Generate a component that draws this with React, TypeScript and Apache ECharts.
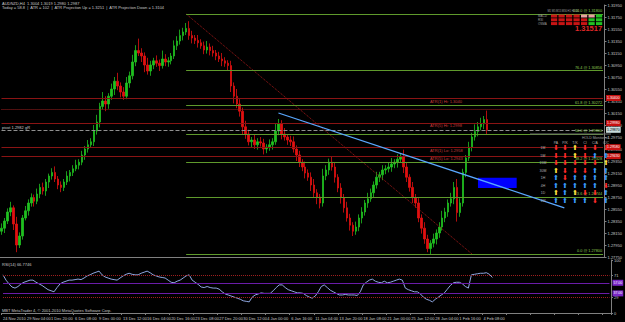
import React, { useEffect, useRef } from "react";
import * as echarts from "echarts";

// ---- data (prices as pips above BASE) ----
const BASE = 1.27;
const PIP = 0.0001;
const firstOpen = 118;
const closes = [
  123, 135, 150, 157, 130, 95, 110, 140, 152, 165,
  174, 168, 180, 191, 185, 200, 210, 216, 205, 195,
  191, 200, 210, 216, 222, 228, 233, 245, 255, 262,
  267, 285, 300, 326, 335, 330, 343, 355, 368, 360,
  350, 343, 365, 377, 400, 419, 415, 410, 395, 385,
  395, 402, 398, 394, 405, 400, 402, 410, 427, 435,
  444, 450, 456, 444, 440, 436, 432, 427, 420, 425,
  419, 415, 410, 405, 402, 398, 394, 360, 343, 330,
  318, 292, 280, 267, 270, 262, 267, 265, 255, 258,
  262, 267, 285, 297, 280, 275, 270, 267, 255, 245,
  233, 225, 215, 208, 195, 182, 175, 165, 210, 220,
  233, 225, 208, 190, 174, 157, 140, 128, 118, 125,
  140, 150, 165, 172, 182, 195, 208, 212, 220, 222,
  225, 230, 233, 238, 242, 225, 208, 191, 174, 165,
  140, 123, 105, 89, 98, 105, 115, 125, 140, 150,
  165, 172, 191, 149, 165, 216, 240, 258, 275, 284,
  292, 297, 304, 287,
];
const wickUp = [
  8, 5, 6, 10, 4, 12, 6, 5, 8, 6,
  7, 5, 9, 6, 8, 5, 4, 7, 10, 5,
  6, 5, 8, 4, 6, 9, 5, 7, 5, 8,
  6, 10, 12, 6, 15, 8, 5, 9, 7, 14,
  6, 8, 10, 7, 12, 9, 20, 8, 6, 12,
  7, 5, 9, 6, 14, 8, 6, 5, 9, 8,
  10, 7, 9, 12, 8, 5, 9, 6, 7, 10,
  6, 8, 5, 7, 10, 6, 5, 8, 6, 12,
  8, 6, 10, 7, 5, 9, 6, 8, 7, 5,
  9, 6, 12, 8, 6, 10, 5, 7, 9, 6,
  7, 5, 9, 6, 8, 10, 6, 5, 12, 8,
  6, 9, 7, 5, 8, 6, 10, 7, 5, 9,
  6, 8, 5, 10, 7, 6, 9, 5, 8, 6,
  7, 10, 5, 8, 6, 12, 7, 5, 9, 6,
  8, 6, 10, 7, 5, 9, 6, 8, 12, 7,
  6, 10, 9, 14, 8, 6, 5, 9, 7, 12,
  8, 10, 6, 15,
];
const wickDown = [
  6, 8, 5, 7, 10, 12, 5, 6, 4, 8,
  6, 9, 5, 7, 6, 8, 10, 6, 5, 7,
  8, 6, 5, 9, 6, 4, 7, 5, 8, 6,
  5, 7, 6, 9, 5, 12, 8, 6, 10, 7,
  9, 6, 5, 8, 6, 7, 5, 10, 12, 6,
  8, 7, 6, 9, 5, 7, 8, 6, 5, 7,
  6, 8, 5, 7, 9, 6, 8, 5, 7, 6,
  8, 6, 7, 5, 9, 6, 8, 10, 12, 7,
  9, 12, 8, 6, 10, 7, 8, 6, 9, 7,
  6, 8, 5, 7, 9, 6, 8, 7, 6, 10,
  8, 7, 9, 6, 10, 8, 12, 9, 6, 7,
  8, 6, 9, 7, 10, 8, 6, 9, 8, 6,
  7, 9, 6, 8, 5, 7, 6, 8, 9, 7,
  6, 8, 7, 9, 6, 10, 8, 7, 9, 8,
  7, 9, 8, 6, 10, 7, 9, 8, 6, 7,
  8, 6, 9, 15, 7, 6, 8, 5, 7, 6,
  8, 6, 9, 7,
];
const rsiValues = [
  72, 62, 55, 49, 47, 50, 55, 58, 60, 62,
  62, 58, 55, 52, 48, 44, 42, 40, 48, 55,
  58, 60, 62, 62, 63, 64, 63, 66, 70, 72,
  75, 77, 79, 72, 68, 66, 64, 63, 62, 66,
  70, 73, 75, 73, 72, 72, 75, 77, 79, 76,
  72, 70, 68, 67, 66, 62, 58, 57, 60, 62,
  66, 70, 72, 62, 58, 54, 49, 48, 50, 48,
  47, 47, 45, 40, 36, 34, 32, 30, 28, 26,
  23, 22, 21, 30, 34, 36, 38, 37, 37, 37,
  42, 48, 53, 53, 48, 44, 42, 40, 38, 38,
  37, 33, 30, 28, 32, 40, 50, 53, 48, 43,
  40, 37, 34, 34, 35, 34, 34, 34, 33, 40,
  53, 58, 62, 64, 60, 58, 57, 60, 57, 58,
  60, 62, 64, 62, 47, 44, 42, 40, 40, 36,
  30, 26, 24, 21, 26, 30, 34, 38, 45, 52,
  57, 58, 58, 55, 50, 47, 72, 73, 74, 75,
  75, 76, 73, 67,
];
const xLabels = [
  "24 Nov 2010", "29 Nov 04:00", "1 Dec 20:00", "6 Dec 08:00", "9 Dec 00:00",
  "13 Dec 12:00", "16 Dec 04:00", "20 Dec 16:00", "23 Dec 08:00", "27 Dec 20:00",
  "30 Dec 12:00", "4 Jan 00:00", "6 Jan 16:00", "11 Jan 04:00", "13 Jan 20:00",
  "18 Jan 08:00", "21 Jan 00:00", "25 Jan 12:00", "28 Jan 04:00", "1 Feb 16:00",
  "4 Feb 08:00",
];
const priceTicks = [
  1.3195, 1.3175, 1.3155, 1.3135, 1.3115, 1.3095, 1.3075, 1.3055, 1.3035, 1.3015, 1.2995,
  1.2975, 1.2955, 1.2935, 1.2915, 1.2895, 1.2875, 1.2855, 1.2835, 1.2815, 1.2795, 1.2775,
];
const rsiTicks = [0, 29, 71, 100];
const fibPcts = ["100.0", "76.4", "61.8", "50.0", "38.2", "23.6", "0.0"];
const fibPrices = [1.318, 1.30856, 1.30272, 1.298, 1.29328, 1.28744, 1.278];
const atrNames = ["ATR(1) Hi", "ATR(5) Hi", "ATR(1) Lo", "ATR(5) Lo"];
const atrPrices = [1.304, 1.2998, 1.2958, 1.2943];
const atrDotted = 1.3022;
const bidPrice = 1.2987;
const trendBlue = [[93, 1.3015], [189, 1.2857]];
const trendRed = [[62, 1.318], [158, 1.278]];
const zoneBox = [[160, 1.2907], [173, 1.289]];
const rsiBands = [57, 37];
const rsiLevels = [71, 29];
const monitorCols = ["PA", "P/K", "T/K", "CI", "C/A", "C/C"];
const monitorRows = ["1M", "5M", "15M", "30M", "1H", "4H", "1D", "1W"];
const monitorSignals = [
  "RRYRRR",
  "RRYRBB",
  "RRRRRY",
  "YRRRBB",
  "BRBBBB",
  "BBBBBR",
  "YBYRRB",
  "BBBBRB",
];
const trendRows = ["MACD", "RSI", "OSMA"];
const trendHeader = "M1 M5 M15 M30 H1 H4 D1";
const trendSignals = ["RRRRPPG", "RRRRRGG", "RRRRRGG"];

const N_CATS = 203;
const FONT = "Liberation Sans";

export default function App() {
  const ref = useRef<HTMLDivElement>(null);
  useEffect(() => {
    const chart = echarts.init(ref.current!, null, { renderer: "svg" });
    const px = (v: number) => +(BASE + v * PIP).toFixed(4);
    const ohlc = closes.map((c, i) => {
      const o = i === 0 ? firstOpen : closes[i - 1];
      const h = Math.max(o, c) + wickUp[i];
      const l = Math.min(o, c) - wickDown[i];
      return [px(o), px(c), px(l), px(h)];
    });
    const cats = Array.from({ length: N_CATS }, (_, i) => String(i));
    const grey = "#808080";
    const txt = "#c8c8c8";
    const last = N_CATS - 1;

    const axisBox = (text: string, bg: string, fg: string) => ({
      show: true,
      position: "end",
      formatter: text,
      backgroundColor: bg,
      color: fg,
      fontSize: 3.5,
      fontFamily: FONT,
      padding: [1, 1],
      distance: 3,
    });
    const seg = (x0: number, p: number, lineStyle: any, label: any) => [
      { coord: [x0, p], lineStyle, label },
      { coord: [last, p] },
    ];

    const priceLines: any[] = [];
    atrPrices.forEach((p) => {
      priceLines.push(
        seg(0, p, { color: "#8a1414", type: "solid", width: 1 }, axisBox(p.toFixed(5), "#c81010", "#ffffff"))
      );
    });
    priceLines.push(seg(0, atrDotted, { color: "#a02020", type: "dotted", width: 1 }, { show: false }));
    priceLines.push(
      seg(0, bidPrice, { color: "#909090", type: "dashed", width: 1 }, axisBox(bidPrice.toFixed(5), "#c8dcdc", "#000000"))
    );
    fibPrices.forEach((p, i) => {
      priceLines.push(
        seg(
          62,
          p,
          { color: "#5f9a2c", type: "solid", width: 1 },
          {
            show: true,
            position: "insideEndTop",
            formatter: `${fibPcts[i]} @ ${p.toFixed(5)}`,
            color: "#8cc850",
            fontSize: 3.8,
            fontFamily: FONT,
            distance: 1,
          }
        )
      );
    });

    const rsiLines: any[] = [];
    rsiLevels.forEach((v) => {
      rsiLines.push(seg(0, v, { color: "#a02020", type: "dotted", width: 1 }, { show: false }));
    });
    rsiBands.forEach((v) => {
      rsiLines.push(seg(0, v, { color: "#6a1ca8", type: "solid", width: 1 }, axisBox(v.toFixed(2), "#7a28c8", "#ffffff")));
    });

    const graphics: any[] = [];
    const t = (x: number, y: number, text: string, fill: string, size = 4, extra: any = {}) =>
      graphics.push({
        type: "text",
        x,
        y,
        silent: true,
        z: 100,
        style: { text, fill, fontSize: size, fontFamily: FONT, textVerticalAlign: "middle", ...extra },
      });

    t(2, 3, "AUDNZD,H4  1.3004 1.3019 1.2980 1.2987", txt);
    t(2, 7.5, "Today = 58.8  |  ATR = 102  |  ATR Projection Up = 1.3251  |  ATR Projection Down = 1.3104", txt);
    t(2, 127, "pivot 1.2982 gR", txt);
    atrNames.forEach((n, i) => {
      const yy = [101, 125, 150, 158][i];
      t(430, yy, `${n}: ${atrPrices[i].toFixed(4)}`, "#c83c3c");
    });
    t(2, 264, "RSI(14) 66.7746", txt);
    t(2, 310, "MBT MetaTrader 4, © 2001-2010 MetaQuotes Software Corp.", txt);

    // top-right trend panel
    t(579, 11, trendHeader, "#a0a0a0", 2.6, { textAlign: "right" });
    trendRows.forEach((r, i) => {
      t(538, 15.5 + i * 4, r, "#a0a0a0", 3);
      trendSignals[i].split("").forEach((s, j) => {
        const fill = s === "R" ? "#c81414" : s === "G" ? "#22c022" : "#e8a0a0";
        graphics.push({
          type: "rect",
          silent: true,
          z: 100,
          shape: { x: 551 + j * 7.5, y: 14.5 + i * 3.8, width: 6.2, height: 3 },
          style: { fill },
        });
      });
    });
    t(575, 28, "1.31517", "#e02828", 7.5, { fontWeight: "bold" });

    // monitor panel
    graphics.push({
      type: "line",
      silent: true,
      z: 100,
      shape: { x1: 530, y1: 134, x2: 611, y2: 134 },
      style: { stroke: "#707070", lineWidth: 1 },
    });
    t(582, 137.5, "HOLD Monitor v4", "#a0a0a0", 3.5);
    const colX = [556, 565, 575, 585, 595, 606];
    const rowY = [148, 156, 163, 171, 178, 186, 193, 201];
    monitorCols.forEach((c, j) => t(colX[j], 143, c, "#b0b0b0", 3.5, { textAlign: "center" }));
    monitorRows.forEach((r, i) => {
      t(543, rowY[i], r, "#b0b0b0", 3.5, { textAlign: "center" });
      monitorSignals[i].split("").forEach((s, j) => {
        const fill = s === "R" ? "#ff2a2a" : s === "B" ? "#3a9cff" : "#ffe040";
        t(colX[j], rowY[i], s === "R" ? "⬇" : "⬆", fill, 7, {
          textAlign: "center",
          fontFamily: "DejaVu Sans",
        });
      });
    });

    const option: any = {
      animation: false,
      backgroundColor: "#000000",
      textStyle: { fontFamily: FONT },
      grid: [
        { left: 0, right: 14, top: 5, height: 252 },
        { left: 0, right: 14, top: 260, height: 53 },
      ],
      xAxis: [
        {
          gridIndex: 0,
          type: "category",
          data: cats,
          axisLine: { show: true, lineStyle: { color: grey } },
          axisTick: { show: false },
          axisLabel: { show: false },
          splitLine: { show: false },
        },
        {
          gridIndex: 1,
          type: "category",
          data: cats,
          axisLine: { show: true, lineStyle: { color: grey } },
          axisTick: { show: true, interval: 7, length: 2, lineStyle: { color: grey } },
          axisLabel: {
            show: true,
            interval: 7,
            align: "left",
            color: txt,
            fontSize: 4,
            margin: 3,
            fontFamily: FONT,
            formatter: (_v: string, idx: number) => xLabels[idx / 8] ?? "",
          },
          splitLine: { show: false },
        },
      ],
      yAxis: [
        {
          gridIndex: 0,
          type: "value",
          position: "right",
          min: 1.2775,
          max: 1.3195,
          splitLine: { show: false },
          axisLine: { show: true, lineStyle: { color: grey } },
          axisTick: { show: true, length: 2, customValues: priceTicks, lineStyle: { color: grey } },
          axisLabel: {
            show: true,
            customValues: priceTicks,
            color: txt,
            fontSize: 4,
            margin: 3,
            fontFamily: FONT,
            formatter: (v: number) => v.toFixed(5),
          },
        },
        {
          gridIndex: 1,
          type: "value",
          position: "right",
          min: 0,
          max: 100,
          splitLine: { show: false },
          axisLine: { show: true, lineStyle: { color: grey } },
          axisTick: { show: true, length: 2, customValues: rsiTicks, lineStyle: { color: grey } },
          axisLabel: {
            show: true,
            customValues: rsiTicks,
            color: txt,
            fontSize: 4,
            margin: 3,
            fontFamily: FONT,
          },
        },
      ],
      series: [
        {
          type: "candlestick",
          xAxisIndex: 0,
          yAxisIndex: 0,
          data: ohlc,
          barWidth: 2,
          itemStyle: {
            color: "#1fc01f",
            color0: "#e01010",
            borderColor: "#1fc01f",
            borderColor0: "#e01010",
            borderWidth: 0.8,
          },
          markLine: { silent: true, symbol: "none", animation: false, data: priceLines },
          markArea: {
            silent: true,
            itemStyle: { color: "#0000ff", opacity: 1 },
            data: [[{ coord: zoneBox[0] }, { coord: zoneBox[1] }]],
          },
        },
        {
          type: "line",
          xAxisIndex: 0,
          yAxisIndex: 0,
          data: trendRed,
          symbol: "none",
          silent: true,
          lineStyle: { color: "#a01818", width: 1, type: "dotted" },
        },
        {
          type: "line",
          xAxisIndex: 0,
          yAxisIndex: 0,
          data: trendBlue,
          symbol: "none",
          silent: true,
          z: 5,
          lineStyle: { color: "#5aa8ff", width: 1.3 },
        },
        {
          type: "line",
          xAxisIndex: 1,
          yAxisIndex: 1,
          data: rsiValues,
          symbol: "none",
          silent: true,
          lineStyle: { color: "#8ea6e0", width: 1 },
          markLine: { silent: true, symbol: "none", animation: false, data: rsiLines },
        },
      ],
      graphic: graphics,
    };
    chart.setOption(option);
    return () => chart.dispose();
  }, []);
  return (
    <div
      ref={ref}
      style={{ position: "fixed", left: 0, top: 0, width: 625, height: 322, background: "#000" }}
    />
  );
}
